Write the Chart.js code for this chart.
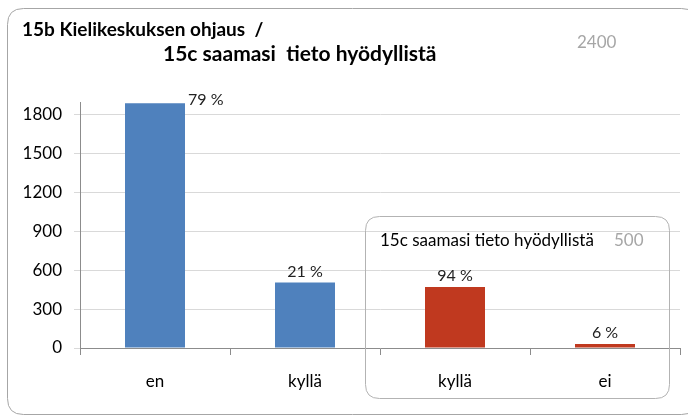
<!DOCTYPE html>
<html>
<head>
<meta charset="utf-8">
<script src="https://cdn.jsdelivr.net/npm/chart.js@4/dist/chart.umd.min.js"></script>
<style>
html,body{margin:0;padding:0;background:#fff;}
#wrap{width:688px;height:417px;position:relative;}
</style>
</head>
<body>
<div id="wrap"><canvas id="c" width="688" height="417"></canvas></div>
<script>
// ---- data ----
const categories = ['en', 'kyllä', 'kyllä', 'ei'];
const counts = [1885, 505, 470, 30];
const percentLabels = ['79 %', '21 %', '94 %', '6 %'];
const barColors = ['#4F81BD', '#4F81BD', '#C0391F', '#C0391F'];
const yTicks = [0, 300, 600, 900, 1200, 1500, 1800];
const titleLine1 = '15b Kielikeskuksen ohjaus  /';
const titleLine2 = '15c saamasi  tieto hyödyllistä';
const grayNote1 = '2400';
const insetTitle = '15c saamasi tieto hyödyllistä';
const grayNote2 = '500';

const FONT = 'Lato, "Open Sans", sans-serif';

function roundRect(ctx, x, y, w, h, r) {
  ctx.beginPath();
  ctx.moveTo(x + r, y);
  ctx.lineTo(x + w - r, y);
  ctx.quadraticCurveTo(x + w, y, x + w, y + r);
  ctx.lineTo(x + w, y + h - r);
  ctx.quadraticCurveTo(x + w, y + h, x + w - r, y + h);
  ctx.lineTo(x + r, y + h);
  ctx.quadraticCurveTo(x, y + h, x, y + h - r);
  ctx.lineTo(x, y + r);
  ctx.quadraticCurveTo(x, y, x + r, y);
  ctx.closePath();
}

const decor = {
  id: 'decor',
  beforeDraw(chart) {
    const ctx = chart.ctx;
    ctx.save();
    ctx.fillStyle = '#fff';
    ctx.fillRect(0, 0, chart.width, chart.height);
    ctx.strokeStyle = '#a6a6a6';
    ctx.lineWidth = 1;
    roundRect(ctx, 7.5, 8.5, 690, 406, 16);
    ctx.stroke();
    ctx.restore();
  },
  afterDraw(chart) {
    const ctx = chart.ctx;
    ctx.save();
    // titles
    ctx.fillStyle = '#000';
    ctx.textBaseline = 'middle';
    ctx.textAlign = 'left';
    ctx.font = 'bold 19px ' + FONT;
    ctx.fillText(titleLine1, 22, 30);
    ctx.font = 'bold 21px ' + FONT;
    ctx.fillText(titleLine2, 163, 54);
    ctx.fillStyle = '#a6a6a6';
    ctx.font = '17px ' + FONT;
    ctx.fillText(grayNote1, 577, 43);

    // inset box
    ctx.strokeStyle = '#b3b3b3';
    roundRect(ctx, 365.5, 216.5, 304, 182, 14);
    ctx.stroke();
    ctx.fillStyle = '#000';
    ctx.font = '17px ' + FONT;
    ctx.fillText(insetTitle, 380, 241);
    ctx.fillStyle = '#a6a6a6';
    ctx.fillText(grayNote2, 614, 241);

    // percentage labels
    const meta = chart.getDatasetMeta(0);
    ctx.fillStyle = '#222';
    ctx.font = '16px ' + FONT;
    meta.data.forEach((bar, i) => {
      if (i === 0) {
        ctx.textAlign = 'left';
        ctx.fillText(percentLabels[i], bar.x + bar.width / 2 + 3, bar.y - 3);
      } else {
        ctx.textAlign = 'center';
        ctx.fillText(percentLabels[i], bar.x, bar.y - 11);
      }
    });
    ctx.restore();
  }
};

new Chart(document.getElementById('c'), {
  type: 'bar',
  data: {
    labels: categories,
    datasets: [{
      data: counts,
      backgroundColor: barColors,
      borderWidth: 0,
      barPercentage: 0.4,
      categoryPercentage: 1.0
    }]
  },
  options: {
    responsive: false,
    animation: false,
    devicePixelRatio: 1,
    layout: { padding: { left: 0, right: 8, top: 102, bottom: 0 } },
    plugins: {
      legend: { display: false },
      tooltip: { enabled: false },
      title: { display: false }
    },
    scales: {
      x: {
        offset: true,
        grid: {
          offset: true,
          drawOnChartArea: false,
          drawTicks: true,
          tickLength: 7,
          color: '#8c8c8c'
        },
        border: { color: '#8c8c8c' },
        ticks: {
          color: '#000',
          padding: 16,
          font: { family: FONT, size: 17 }
        },
        afterFit(scale) { scale.height = 69; }
      },
      y: {
        min: 0,
        max: 1895,
        afterBuildTicks(scale) {
          scale.ticks = yTicks.map(v => ({ value: v }));
        },
        grid: {
          color: '#d9d9d9',
          tickLength: 6,
          drawTicks: true
        },
        border: { color: '#8c8c8c' },
        ticks: {
          color: '#000',
          padding: 12,
          font: { family: FONT, size: 17 },
          callback: (v) => String(v)
        },
        afterFit(scale) { scale.width = 80; }
      }
    }
  },
  plugins: [decor]
});
</script>
</body>
</html>
